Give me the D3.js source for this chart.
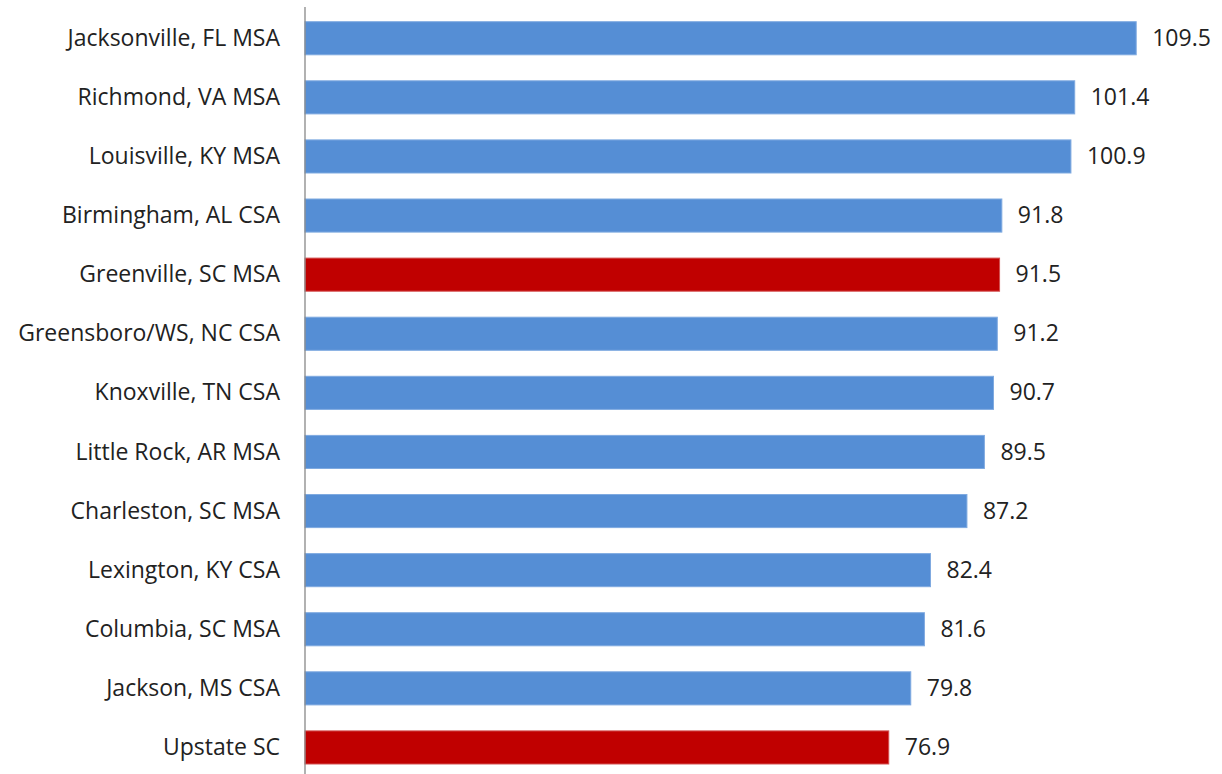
<!DOCTYPE html>
<html>
<head>
<meta charset="utf-8">
<script src="https://cdn.jsdelivr.net/npm/d3@7"></script>
<style>
  body { margin: 0; background: #fff; }
  text { font-family: "Open Sans", "Noto Sans", sans-serif; fill: #222; }
</style>
</head>
<body>
<div id="chart"></div>
<script>
// data
var regions = ["Jacksonville, FL MSA", "Richmond, VA MSA", "Louisville, KY MSA", "Birmingham, AL CSA",
    "Greenville, SC MSA", "Greensboro/WS, NC CSA", "Knoxville, TN CSA", "Little Rock, AR MSA",
    "Charleston, SC MSA", "Lexington, KY CSA", "Columbia, SC MSA", "Jackson, MS CSA", "Upstate SC"];
var values = [109.5, 101.4, 100.9, 91.8, 91.5, 91.2, 90.7, 89.5, 87.2, 82.4, 81.6, 79.8, 76.9];
var highlighted = ["Greenville, SC MSA", "Upstate SC"];

var width = 1222, height = 774;

var svg = d3.select("#chart").append("svg")
    .attr("width", width)
    .attr("height", height);

var x = d3.scaleLinear().domain([0, 110]).range([305, 1140]);
var y = d3.scaleBand().domain(regions).range([8.7, 777]).paddingInner(0.44).paddingOuter(0.22);

var rows = regions.map(function (r, i) { return {name: r, value: values[i]}; });

//bars
svg.append("g").selectAll("rect")
    .data(rows)
    .enter().append("rect")
    .attr("x", x(0))
    .attr("y", function (d) { return y(d.name); })
    .attr("width", function (d) { return x(d.value) - x(0); })
    .attr("height", y.bandwidth())
    .attr("fill", function (d) { return highlighted.indexOf(d.name) >= 0 ? "#C00000" : "#558ED5"; })
    .attr("stroke", function (d) { return highlighted.indexOf(d.name) >= 0 ? "#D35050" : "#7FAAE0"; })
    .attr("stroke-width", 1);

//value labels
svg.append("g").selectAll("text")
    .data(rows)
    .enter().append("text")
    .attr("x", function (d) { return x(d.value) + 16; })
    .attr("y", function (d) { return y(d.name) + y.bandwidth() / 2; })
    .attr("dy", "0.33em")
    .style("font-size", "23px")
    .text(function (d) { return d3.format(".1f")(d.value); });

//category axis
var yAxis = svg.append("g")
    .attr("transform", "translate(" + x(0) + ",0)")
    .call(d3.axisLeft(y).tickSize(0).tickPadding(25));
yAxis.select(".domain").remove();
yAxis.selectAll("text").style("font-size", "23px").attr("dy", "0.33em").attr("fill", "#222");

svg.append("line")
    .attr("x1", x(0)).attr("x2", x(0))
    .attr("y1", 7).attr("y2", height)
    .attr("stroke", "#888")
    .attr("stroke-width", 1.3);
</script>
</body>
</html>
